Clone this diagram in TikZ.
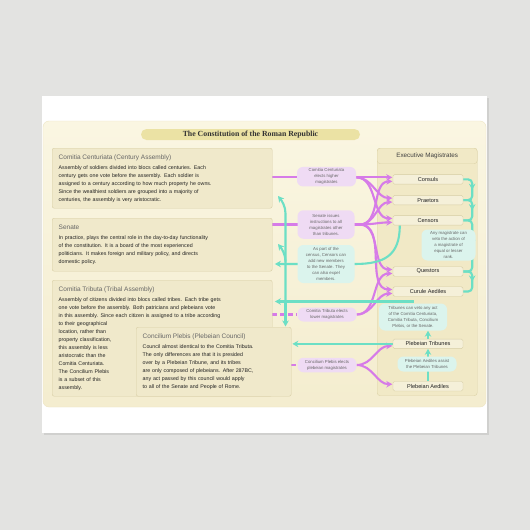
\documentclass[tikz,border=0pt]{standalone}
\usepackage{fontspec}
\setmainfont{Liberation Sans}
\newfontfamily\titleserif{Liberation Serif}
\usetikzlibrary{positioning,arrows.meta,decorations.markings}

\definecolor{marble}{HTML}{E3E3E1}
\definecolor{cardshadow}{HTML}{D0D0CE}
\definecolor{paneltop}{HTML}{FAF6E2}
\definecolor{panelbot}{HTML}{F4EDCF}
\definecolor{panelline}{HTML}{EDE5C4}
\definecolor{banner}{HTML}{EBE2A4}
\definecolor{boxfill}{HTML}{F0E9CB}
\definecolor{boxline}{HTML}{D8CEA5}
\definecolor{execfill}{HTML}{F1E9C6}
\definecolor{execline}{HTML}{DDD3A8}
\definecolor{magfill}{HTML}{F5F0D9}
\definecolor{magline}{HTML}{D6CDA4}
\definecolor{electcol}{HTML}{D67BE8}
\definecolor{vetocol}{HTML}{6CDFC5}
\definecolor{notepink}{HTML}{EFDBF4}
\definecolor{notecyan}{HTML}{DBF4ED}
\definecolor{textdark}{HTML}{222222}
\definecolor{headgray}{HTML}{666666}

\newcommand{\boxtitle}[1]{{\fontsize{6.5}{8}\selectfont\color{headgray}#1}\\[2pt]}

\pgfdeclarelayer{back}
\pgfdeclarelayer{wires}
\pgfsetlayers{back,wires,main}

\begin{document}
\begin{tikzpicture}[x=1pt,y=-1pt,
  box/.style={draw=boxline,fill=boxfill,rounded corners=2pt,anchor=north west,align=left,inner xsep=6.5pt,inner ysep=0pt,font=\fontsize{5.3}{8}\selectfont,text=textdark},
  mag node/.style={draw=magline,fill=magfill,rounded corners=1.5pt,minimum width=70pt,minimum height=9.5pt,inner sep=0pt,font=\fontsize{5.6}{6}\selectfont,text=textdark},
  note/.style={fill=notepink,rounded corners=6pt,align=center,inner sep=1.5pt,font=\fontsize{4.3}{6}\selectfont,text=headgray},
  veto note/.style={note,fill=notecyan},
  elect line/.style={color=electcol,line width=2.1pt},
  elect arrow/.style={elect line,-{Stealth[length=6pt,width=6.5pt]},shorten >=0.5pt},
  veto line/.style={color=vetocol,line width=2.1pt},
  veto arrow/.style={veto line,-{Stealth[length=6pt,width=6.5pt]}},
  midarrow/.style={postaction={decorate},decoration={markings,mark=at position 0.5 with {\arrow{Stealth[length=6pt,width=6.5pt]}}}}]

  \useasboundingbox (0,0) rectangle (530,530);

  \begin{pgfonlayer}{back}
    \fill[marble] (0,0) rectangle (530,530);
    \fill[cardshadow] (43.5,97.5) rectangle (488.5,435);
    \fill[white] (42,96) rectangle (487,433);
    \shade[top color=paneltop,bottom color=panelbot,draw=panelline,rounded corners=6pt] (43,121) rectangle (486,407);
    \node[draw=execline,fill=execfill,rounded corners=3pt,anchor=north west,minimum width=100pt,minimum height=247.5pt] (exec) at (377,148) {};
    \node[draw=execline,fill=execfill,rounded corners=3pt,anchor=north west,minimum width=100pt,minimum height=15.5pt,inner sep=0pt,font=\fontsize{6.3}{7}\selectfont,text=black!75] (exechead) at (377,148) {Executive Magistrates};
  \end{pgfonlayer}

  \node[fill=banner,rounded corners=5.5pt,minimum width=219pt,minimum height=11pt,inner sep=0pt,font=\titleserif\bfseries\fontsize{7.8}{8}\selectfont,text=black!80] (title) at (250.5,134.5) {The Constitution of the Roman Republic};

  % assemblies
  \node[box,text width=207pt,minimum height=60pt] (cc) at (52,148) {\boxtitle{Comitia Centuriata (Century Assembly)}Assembly of soldiers divided into blocs called centuries.  Each\\century gets one vote before the assembly.  Each soldier is\\assigned to a century according to how much property he owns.\\Since the wealthiest soldiers are grouped into a majority of\\centuries, the assembly is very aristocratic.};
  \node[box,text width=207pt,minimum height=53pt] (sen) at (52,218) {\boxtitle{Senate}In practice, plays the central role in the day-to-day functionality\\of the constitution.  It is a board of the most experienced\\politicians.  It makes foreign and military policy, and directs\\domestic policy.};
  \node[box,text width=207pt,minimum height=116pt] (ct) at (52,280) {\boxtitle{Comitia Tributa (Tribal Assembly)}Assembly of citizens divided into blocs called tribes.  Each tribe gets\\one vote before the assembly.  Both patricians and plebeians vote\\in this assembly.  Since each citizen is assigned to a tribe according\\to their geographical\\location, rather than\\property classification,\\this assembly is less\\aristocratic than the\\Comitia Centuriata.\\The Concilium Plebis\\is a subset of this\\assembly.};
  \node[box,text width=142pt,minimum height=69pt] (cp) at (136,327) {\boxtitle{Concilium Plebis (Plebeian Council)}Council almost identical to the Comitia Tributa.\\The only differences are that it is presided\\over by a Plebeian Tribune, and its tribes\\are only composed of plebeians.  After 287BC,\\any act passed by this council would apply\\to all of the Senate and People of Rome.};

  % magistrates
  \node[mag node] (cons) at (428,179.4) {Consuls};
  \node[mag node] (prae) [below=10.8pt of cons] {Praetors};
  \node[mag node] (cens) [below=10.4pt of prae] {Censors};
  \node[mag node] (ques) [below=41.2pt of cens] {Questors};
  \node[mag node] (cur) [below=10.1pt of ques] {Curule Aediles};
  \node[mag node] (ptrib) [below=42.5pt of cur] {Plebeian Tribunes};
  \node[mag node] (paed) [below=32.4pt of ptrib] {Plebeian Aediles};

  \foreach \m in {cons,prae,cens,ques,cur,ptrib,paed} {
    \coordinate (\m-hi) at ([yshift=2pt]\m.west);
    \coordinate (\m-lo) at ([yshift=-2pt]\m.west);
  }

  % notes on the connectors
  \node[note,minimum width=59pt,minimum height=19.5pt] (n1) at (326.5,176.7) {Comitia Centuriata\\elects higher\\magistrates};
  \node[note,minimum width=57pt,minimum height=28.5pt] (n2) at (326,224.5) {Senate issues\\instructions to all\\magistrates other\\than tribunes.};
  \node[veto note,minimum width=57pt,minimum height=38pt] (n3) at (326,264) {As part of the\\census, Censors can\\add new members\\to the Senate.  They\\can also expel\\members.};
  \node[note,minimum width=59pt,minimum height=14pt] (n4) at (327,314.5) {Comitia Tributa elects\\lower magistrates};
  \node[note,minimum width=59pt,minimum height=14.5pt] (n5) at (327,365) {Concilium Plebis elects\\plebeian magistrates};
  \node[veto note,minimum width=54pt,minimum height=31pt] (n6) at (448.5,245) {Any magistrate can\\veto the action of\\a magistrate of\\equal or lesser\\rank.};
  \node[veto note,minimum width=68pt,minimum height=27pt] (n7) at (413,317) {Tribunes can veto any act\\of the Comitia Centuriata,\\Comitia Tributa, Concilium\\Plebis, or the Senate.};
  \node[veto note,minimum width=59pt,minimum height=15pt] (n8) at (427,364) {Plebeian Aediles assist\\the Plebeian Tribunes};

  \coordinate (spine) at (285.5,301.5);
  \coordinate (cc veto) at (278,196);
  \coordinate (sen veto) at (278,244);

  \begin{pgfonlayer}{wires}
    % elections and instructions
    \draw[elect arrow] (cc.east |- cons-hi) -- (cons-hi);
    \draw[elect arrow] (n1.east |- cons-hi) to[out=0,in=180] (prae-hi);
    \draw[elect arrow] (n1.east |- cons-hi) to[out=0,in=180] (cens-hi);

    \coordinate (sen fork) at ([xshift=5pt]n2.east);
    \draw[elect line] (sen.east |- n2.west) -- (sen fork);
    \foreach \m in {cons-lo,prae-lo,cens-lo,ques-hi,cur-hi}
      \draw[elect arrow] (sen fork) to[out=0,in=180] (\m);

    \draw[elect line,dash pattern=on 5pt off 3pt] (ct.east |- n4.west) -- (n4.west);
    \foreach \m in {ques-lo,cur-lo}
      \draw[elect arrow] (n4.east) to[out=0,in=180] (\m);

    \draw[elect line,dash pattern=on 5pt off 3pt] (cp.east |- n5.west) -- (n5.west);
    \foreach \m in {ptrib-lo,paed-hi}
      \draw[elect arrow] (n5.east) to[out=0,in=180] (\m);

    % vetoes
    \draw[veto arrow,shorten >=2.5pt] ([xshift=7pt]cens.south west) .. controls +(0,30) and +(30,0) .. (n3.east) -- (sen.east |- n3.east);

    \draw[veto arrow] (ptrib.north) -- (ptrib.north |- n7.south);
    \draw[veto line] (n7.north) |- (spine);
    \draw[veto arrow,shorten >=2.5pt] (spine) -- (ct.east |- spine);
    \draw[veto arrow,shorten >=0.5pt] (spine) -- (spine |- cp.north);
    \draw[veto arrow] (spine) -- ++(0,-88) .. controls +(0,-7) and +(4,5) .. (cc veto);
    \draw[veto arrow] ([yshift=40pt]spine) .. controls +(0,-7) and +(4,5) .. (sen veto);

    \draw[veto arrow,shorten >=1pt] (ptrib.west) -- (cp.east |- ptrib.west);
    \draw[veto arrow] (paed.north) -- (ptrib.south);

    \foreach \a/\b in {cons/prae,prae/cens,cens/ques,ques/cur}
      \draw[veto line,midarrow,rounded corners=4pt] (\a.east) -| ([xshift=9pt]\b.east) -- (\b.east);
  \end{pgfonlayer}
\end{tikzpicture}
\end{document}
